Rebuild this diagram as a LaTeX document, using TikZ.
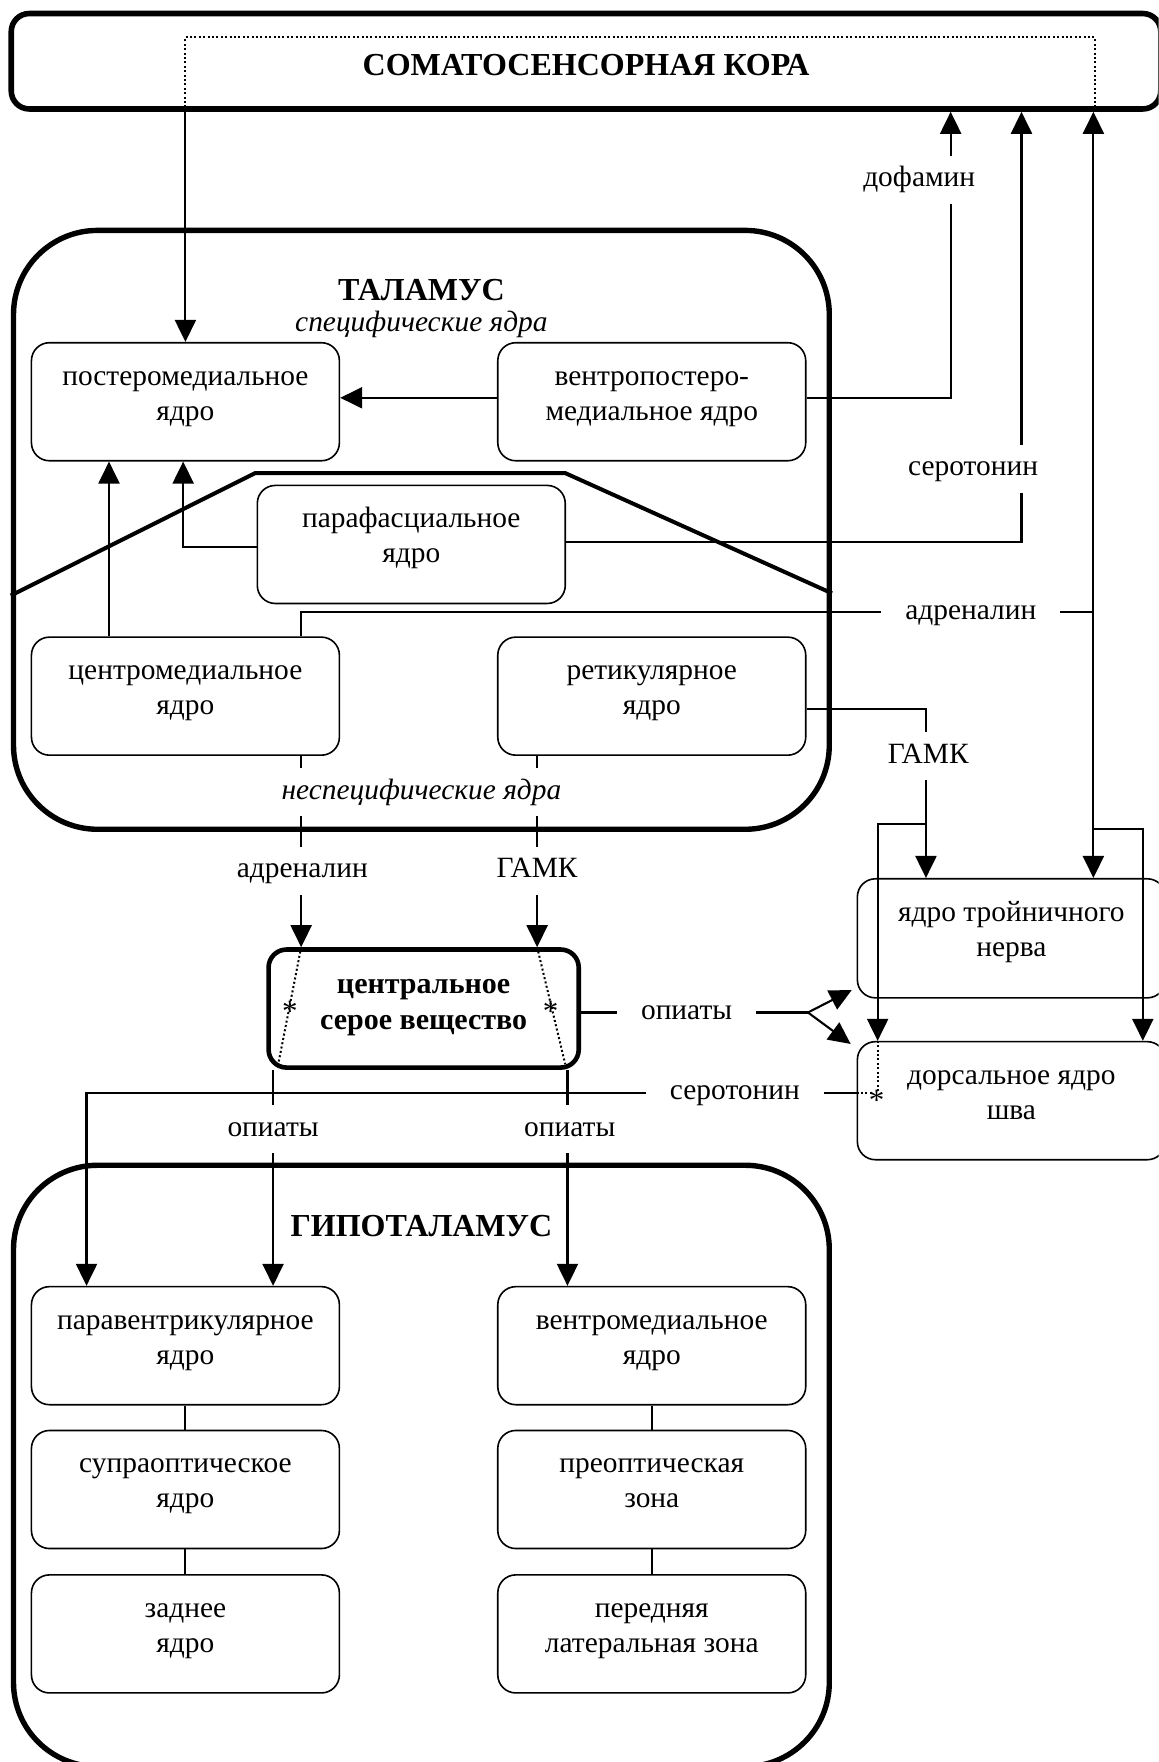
\documentclass[tikz,border=0pt]{standalone}
\usepackage{fontspec}
\setmainfont{Liberation Serif}
\usetikzlibrary{arrows.meta}
\newcommand\txtdepth{\rule[-11.4pt]{0pt}{11.4pt}}
\newcommand\cgdepth{\rule[-9.3pt]{0pt}{9.3pt}}
\begin{document}
\begin{tikzpicture}[x=0.5616pt,y=-0.5616pt,
  font=\fontsize{14.7}{17.5}\selectfont,
  nbox/.style={draw,line width=0.8pt,rounded corners=9pt,minimum width=153.9pt,minimum height=59pt,inner sep=0pt,align=center},
  cont/.style={draw,line width=2.7pt,inner sep=0pt,rounded corners=42pt},
  con/.style={line width=1.05pt},
  arr/.style={con,-{Triangle[length=11pt,width=10.5pt]}},
  dotl/.style={line width=1pt,dash pattern=on 1pt off 1.2pt},
  lbl/.style={fill=white,inner xsep=12pt,inner ysep=5.5pt,text height=10pt,text depth=3pt},
  ttl/.style={font=\fontsize{16}{19}\selectfont\bfseries},
  ast/.style={inner sep=0pt,yshift=-1.8pt,font=\fontsize{15.5}{17.5}\selectfont}
]
\useasboundingbox (0,0) rectangle (1031,1568);
\clip (0,0) rectangle (1031,1568);

% containers
\node[cont,rounded corners=9pt,line width=2.8pt,minimum width=574.5pt,minimum height=47.7pt,ttl] (cortex) at (521.5,54.5) {\rule{0pt}{14.6pt}СОМАТОСЕНСОРНАЯ КОРА};
\node[cont,minimum width=407.7pt,minimum height=299.3pt] (thal) at (375,471.5) {};
\node[cont,minimum width=407.7pt,minimum height=300.5pt] (hyp) at (375,1304.5) {};
\draw[line width=2pt] (thal.west |- 0,530) -- (227,421) -- (503,421) -- (thal.east |- 0,528);

% titles
\node[ttl,anchor=base] (tthal) at (375,267) {ТАЛАМУС};
\node[anchor=base,font=\fontsize{14.7}{17.5}\selectfont\itshape] (tspec) at (375,295) {специфические ядра};
\node[ttl,anchor=base] (thyp) at (375,1100) {ГИПОТАЛАМУС};

% nuclei
\node[nbox] (pm) at (165,357.5) {\strut постеромедиальное\\ядро\txtdepth};
\node[nbox] (vpm) at (580,357.5) {\strut вентропостеро-\\медиальное ядро\txtdepth};
\node[nbox] (pf) at (366,484.5) {\strut парафасциальное\\ядро\txtdepth};
\node[nbox] (cm) at (165,619.5) {\strut центромедиальное\\ядро\txtdepth};
\node[nbox] (rt) at (580,619.5) {\strut ретикулярное\\ядро\txtdepth};
\node[nbox,line width=2.3pt,minimum width=155pt,font=\fontsize{15}{17.5}\selectfont\bfseries] (cg) at (377,897.5) {\strut центральное\\серое вещество\cgdepth};
\node[nbox,minimum height=59.5pt] (tn) at (900,835) {\strut ядро тройничного\\нерва\txtdepth};
\node[nbox] (dn) at (900,979.5) {\strut дорсальное ядро\\шва\txtdepth};
\node[nbox] (pv) at (165,1197.5) {\strut паравентрикулярное\\ядро\txtdepth};
\node[nbox] (so) at (165,1325.5) {\strut супраоптическое\\ядро\txtdepth};
\node[nbox] (zn) at (165,1454) {\strut заднее\\ядро\txtdepth};
\node[nbox] (vm) at (580,1197.5) {\strut вентромедиальное\\ядро\txtdepth};
\node[nbox] (po) at (580,1325.5) {\strut преоптическая\\зона\txtdepth};
\node[nbox] (pl) at (580,1454) {\strut передняя\\латеральная зона\txtdepth};

% hypothalamus chains
\draw[con] (pv.south) -- (so.north);
\draw[con] (so.south) -- (zn.north);
\draw[con] (vm.south) -- (po.north);
\draw[con] (po.south) -- (pl.north);

% cortex -> posteromedial
\draw[arr] (cortex.south -| pm.north) -- (pm.north);
\draw[dotl] (cortex.south -| pm.north) -- (pm.north |- 0,33) -- (974,33) -- (cortex.south -| 974,0);

% VPM
\draw[arr] (vpm.west |- 0,354) -- (pm.east |- 0,354);
\draw[arr] (vpm.east |- 0,354) -| (cortex.south -| 846,0);

% parafascial
\draw[arr] (pf.west |- 0,487) -| (pm.south -| 163,0);
\draw[arr] (pf.east |- 0,482) -| (cortex.south -| 909,0);

% centromedial
\draw[arr] (cm.north -| 97,0) -- (pm.south -| 97,0);
\coordinate (ja) at (973,545);
\draw[con] (cm.north -| 268,0) |- (ja);
\draw[arr] (ja) -- (cortex.south -| ja);
\draw[arr] (ja) -- (tn.north -| ja);
\draw[arr] (973,738) -| (dn.north -| 1017,0);

% reticular
\draw[arr] (rt.east |- 0,631) -| (tn.north -| 824,0);
\draw[arr] (824,733) -| (dn.north -| 781,0);
\draw[dotl] (dn.north -| 781,0) -- (781,973);

% to central grey
\draw[arr] (cm.south -| 268,0) -- (cg.north -| 268,0);
\draw[arr] (rt.south -| 478,0) -- (cg.north -| 478,0);
\draw[dotl] (cg.north -| 268,0) -- (248,945);
\draw[dotl] (cg.north -| 478,0) -- (503,947);
\node[ast] (s1) at (258,897) {*};
\node[ast] (s2) at (490,897) {*};

% opiates
\draw[arr] (cg.south -| 243,0) -- (pv.north -| 243,0);
\draw[arr] (cg.south -| 505,0) -- (vm.north -| 505,0);
\coordinate (fork) at (719,901);
\draw[con] (cg.east |- 0,901) -- (fork);
\coordinate (fa) at (758,881);
\coordinate (fb) at (757,929);
\draw[arr] (fork) -- (fa);
\draw[arr] (fork) -- (fb);

% serotonin from raphe
\draw[arr] (dn.west |- 0,973) -| (pv.north -| 77,0);
\draw[dotl] (dn.west |- 0,973) -- (777,973);
\node[ast] (s3) at (780,976) {*};

% labels
\node[lbl] (l1) at (818,160) {дофамин};
\node[lbl] (l2) at (866,417) {серотонин};
\node[lbl] (l3) at (864,545) {адреналин};
\node[lbl] (l4) at (826,673) {ГАМК};
\node[lbl,font=\fontsize{14.7}{17.5}\selectfont\itshape] (l5) at (375,705) {неспецифические ядра};
\node[lbl] (l6) at (269,775) {адреналин};
\node[lbl] (l7) at (478,775) {ГАМК};
\node[lbl] (l8) at (611,901) {опиаты};
\node[lbl] (l9) at (654,972) {серотонин};
\node[lbl] (l10) at (243,1005) {опиаты};
\node[lbl] (l11) at (507,1005) {опиаты};
\end{tikzpicture}
\end{document}
